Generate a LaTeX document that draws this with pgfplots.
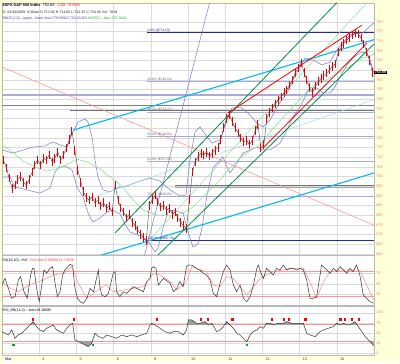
\documentclass[border=0pt]{standalone}
\usepackage{pgfplots}
\usepackage{pgfplotstable}
\pgfplotsset{compat=1.18}
\usepackage{fontspec}
\setmainfont{Liberation Sans}
\definecolor{bgy}{RGB}{255,255,218}
\definecolor{axlab}{RGB}{235,135,100}
\definecolor{bbcol}{RGB}{120,120,200}
\definecolor{macol}{RGB}{140,230,140}
\definecolor{salm}{RGB}{255,140,140}
\definecolor{cyanl}{RGB}{0,185,245}
\definecolor{lcyan}{RGB}{160,220,250}
\definecolor{dgreen}{RGB}{0,140,70}
\definecolor{lgreen}{RGB}{150,225,150}
\definecolor{navyf}{RGB}{40,40,150}
\definecolor{fibcol}{RGB}{170,170,215}
\definecolor{pinkd}{RGB}{255,150,150}
\definecolor{gridc}{RGB}{218,218,218}
\definecolor{bbtxt}{RGB}{70,70,170}
\definecolor{matxt}{RGB}{40,170,40}
\definecolor{barred}{RGB}{235,0,0}

\pgfplotstableread{
d p
0.04 708.6
0.12 704.5
0.19 699.3
0.27 694.1
0.35 695.7
0.42 698.3
0.50 700.3
0.58 697.2
0.65 695.7
0.73 698.3
0.81 702.4
0.88 706.0
0.96 708.6
1.04 706.0
1.12 709.6
1.19 708.6
1.27 711.2
1.35 707.6
1.42 709.6
1.50 712.7
1.58 708.6
1.65 711.2
1.73 714.8
1.81 719.0
1.88 723.6
1.96 713.7
2.04 703.4
2.12 697.2
2.19 692.1
2.27 689.0
2.35 687.9
2.42 689.5
2.50 686.4
2.58 687.9
2.65 684.8
2.73 686.4
2.81 683.8
2.88 684.8
2.96 681.7
3.04 695.7
3.12 687.9
3.19 683.8
3.27 681.7
3.35 678.6
3.42 680.2
3.50 676.5
3.58 674.5
3.65 672.4
3.73 670.3
3.81 668.3
3.88 667.2
3.96 685.3
4.04 688.0
4.12 690.5
4.19 686.9
4.27 684.3
4.35 685.3
4.42 682.7
4.50 683.7
4.58 680.6
4.65 681.7
4.73 678.6
4.81 676.5
4.88 674.5
4.96 673.4
5.04 688.0
5.12 702.4
5.19 707.6
5.27 710.2
5.35 712.2
5.42 711.2
5.50 712.7
5.58 710.7
5.65 712.2
5.73 713.7
5.81 715.3
5.88 719.0
5.96 725.2
6.04 730.3
6.12 731.9
6.19 728.3
6.27 725.2
6.35 722.6
6.42 720.0
6.50 717.9
6.58 718.9
6.65 716.4
6.73 718.9
6.81 724.1
6.88 727.2
6.96 714.8
7.04 716.4
7.12 730.3
7.19 733.4
7.27 735.5
7.35 737.6
7.42 739.6
7.50 741.2
7.58 743.3
7.65 744.8
7.73 747.4
7.81 750.0
7.88 753.6
7.96 756.2
8.04 758.8
8.12 754.1
8.19 750.0
8.27 745.9
8.35 743.3
8.42 746.9
8.50 749.0
8.58 751.0
8.65 752.1
8.73 753.6
8.81 755.2
8.88 757.2
8.96 758.3
9.04 764.5
9.12 767.1
9.19 769.1
9.27 770.7
9.35 772.2
9.42 773.3
9.50 774.3
9.58 773.8
9.65 771.7
9.73 768.6
9.81 764.5
9.88 760.3
9.96 753.89
}\price

\pgfplotstableread{
d p
0.000 713.8
0.296 712.2
0.833 715.3
1.156 715.9
1.371 717.9
1.559 716.4
1.747 715.3
1.909 723.1
2.043 728.3
2.231 729.8
2.312 728.3
2.419 720.5
2.500 708.6
2.581 699.8
2.715 693.1
2.903 692.1
3.091 694.1
3.360 695.2
3.629 697.2
3.978 699.3
4.247 697.7
4.516 693.1
4.785 690.0
4.946 690.5
5.054 708.6
5.188 723.1
5.323 725.7
5.457 722.1
5.645 717.4
5.860 719.0
6.048 729.3
6.183 735.5
6.398 736.0
6.613 732.9
6.855 727.8
7.016 725.7
7.204 729.3
7.392 736.0
7.661 743.3
7.823 750.0
8.011 756.7
8.145 761.4
8.360 760.3
8.602 757.8
8.817 759.3
9.005 765.5
9.167 769.7
9.355 773.3
9.543 774.3
9.704 774.3
9.839 776.9
10.00 779.6
}\bbup

\pgfplotstableread{
d p
0.000 699.8
0.215 699.8
0.349 694.6
0.672 693.1
1.022 691.5
1.290 694.1
1.425 702.4
1.559 705.5
1.747 705.0
1.882 703.4
2.016 694.6
2.177 689.5
2.312 681.2
2.446 676.5
2.634 678.6
2.823 681.7
2.984 682.7
3.172 680.7
3.306 675.5
3.441 671.4
3.710 669.3
3.978 665.2
4.113 661.0
4.194 663.1
4.328 673.4
4.462 681.7
4.597 682.7
4.866 681.2
5.000 671.4
5.134 663.6
5.269 665.2
5.376 673.4
5.511 690.5
5.672 704.5
5.941 710.2
6.048 705.0
6.129 701.9
6.317 707.1
6.478 712.2
6.855 715.3
7.016 713.8
7.204 713.8
7.473 717.4
7.661 724.1
7.823 730.9
8.011 736.0
8.199 743.3
8.280 745.9
8.468 745.9
8.629 743.3
8.817 743.3
8.952 746.4
9.086 751.5
9.274 757.8
9.435 761.4
9.624 764.0
9.785 764.5
9.892 760.3
10.00 753.9
}\bblo

\pgfplotstableread{
d p
0.000 716.4
0.215 713.8
0.565 708.1
0.941 704.5
1.210 702.9
1.559 704.5
1.828 707.1
2.016 709.1
2.285 707.6
2.634 704.0
2.984 698.8
3.253 694.6
3.522 687.9
3.790 682.7
4.167 680.2
4.516 679.6
4.866 681.2
5.134 684.3
5.511 691.5
5.860 698.3
6.129 704.5
6.398 709.6
6.667 713.3
6.935 716.4
7.204 723.1
7.742 734.5
8.280 745.9
8.817 751.0
9.355 757.2
9.704 761.4
10.00 763.3
}\mafifty

\pgfplotstableread{
d v
0.00 47.4
0.08 63.0
0.17 39.6
0.26 16.3
0.35 20.2
0.44 59.1
0.50 66.9
0.59 31.8
0.68 16.3
0.77 70.8
0.82 86.4
0.86 86.4
0.93 39.6
1.00 8.5
1.07 47.4
1.13 82.5
1.20 74.7
1.29 86.4
1.36 90.2
1.42 55.2
1.49 20.2
1.56 31.8
1.63 70.8
1.69 82.5
1.77 90.2
1.83 95.7
1.90 92.6
1.96 39.6
2.03 16.3
2.10 8.5
2.19 4.6
2.28 16.3
2.37 39.6
2.46 31.8
2.54 63.0
2.59 82.5
2.63 43.5
2.68 24.0
2.77 20.2
2.86 27.9
2.99 74.7
3.04 78.6
3.08 31.8
3.17 20.2
3.26 31.8
3.35 27.9
3.53 43.5
3.62 39.6
3.71 35.7
3.80 31.8
3.89 55.2
3.98 63.0
4.02 86.4
4.07 90.2
4.14 86.4
4.20 47.4
4.34 63.0
4.52 51.3
4.61 31.8
4.70 39.6
4.78 55.2
4.87 43.5
4.96 90.2
5.01 94.1
5.10 94.1
5.23 86.4
5.32 82.5
5.41 74.7
5.50 70.8
5.59 59.1
5.68 27.9
5.77 20.2
5.86 51.3
5.95 78.6
6.04 94.1
6.13 82.5
6.22 47.4
6.31 31.8
6.40 47.4
6.49 16.3
6.58 8.5
6.67 20.2
6.76 47.4
6.85 86.4
6.89 94.1
6.98 70.8
7.03 63.0
7.11 86.4
7.20 78.6
7.29 70.8
7.38 86.4
7.47 82.5
7.56 94.1
7.65 82.5
7.74 86.4
7.83 86.4
7.92 82.5
8.01 86.4
8.10 82.5
8.19 59.1
8.28 16.3
8.37 16.3
8.46 20.2
8.55 70.8
8.59 94.1
8.64 90.2
8.73 82.5
8.82 74.7
8.91 86.4
9.00 78.6
9.09 90.2
9.18 82.5
9.27 74.7
9.35 86.4
9.44 78.6
9.53 94.1
9.62 70.8
9.71 24.0
9.80 16.3
9.89 8.5
9.99 5.1
}\stk

\pgfplotstableread{
d v
0.00 55.2
0.22 39.6
0.44 31.8
0.66 43.5
0.84 51.3
1.11 59.1
1.38 70.8
1.65 74.7
1.87 90.2
2.05 51.3
2.28 16.3
2.46 27.9
2.63 39.6
2.81 47.4
2.99 31.8
3.26 35.7
3.53 39.6
3.80 43.5
4.07 74.7
4.25 70.8
4.52 55.2
4.70 35.7
4.96 55.2
5.10 90.2
5.32 82.5
5.50 78.6
5.68 47.4
5.86 43.5
6.04 66.9
6.22 63.0
6.40 43.5
6.58 24.0
6.76 43.5
6.94 63.0
7.11 70.8
7.29 78.6
7.56 82.5
7.83 86.4
8.10 86.4
8.28 55.2
8.46 16.3
8.64 55.2
8.82 78.6
9.09 82.5
9.35 82.5
9.62 82.5
9.80 47.4
9.99 12.7
}\std

\pgfplotstableread{
d v
0.00 53.0
0.08 48.9
0.17 44.7
0.26 57.1
0.35 36.5
0.44 44.7
0.53 48.9
0.62 57.1
0.71 65.4
0.80 73.7
0.84 77.8
0.93 65.4
1.02 57.1
1.11 53.0
1.20 61.3
1.29 65.4
1.38 69.5
1.47 57.1
1.56 53.0
1.65 48.9
1.74 61.3
1.83 69.5
1.90 73.7
1.96 32.3
2.05 28.2
2.19 22.0
2.32 16.0
2.41 24.0
2.50 48.9
2.59 40.6
2.72 36.5
2.81 44.7
2.95 40.6
3.08 36.5
3.22 44.7
3.35 40.6
3.49 44.7
3.62 40.6
3.75 44.7
3.89 48.9
3.98 69.5
4.02 73.7
4.11 69.5
4.25 61.3
4.38 53.0
4.52 48.9
4.61 53.0
4.74 53.0
4.87 44.7
4.96 57.1
5.01 81.9
5.10 81.9
5.23 73.7
5.32 73.7
5.46 77.8
5.55 69.5
5.64 73.7
5.77 53.0
5.86 57.1
5.95 65.4
6.04 77.8
6.13 69.5
6.22 61.3
6.31 48.9
6.40 44.7
6.49 36.5
6.58 28.0
6.67 44.7
6.76 53.0
6.85 57.1
6.94 65.4
7.03 61.3
7.11 73.7
7.20 73.7
7.29 69.5
7.43 73.7
7.56 73.7
7.65 77.8
7.79 73.7
7.92 73.7
8.10 73.7
8.19 48.9
8.28 44.7
8.42 40.6
8.55 53.0
8.64 57.1
8.77 61.3
8.91 65.4
9.00 73.7
9.09 69.5
9.18 73.7
9.27 69.5
9.35 69.5
9.49 77.8
9.58 65.4
9.67 53.0
9.76 40.6
9.85 32.3
9.94 24.0
9.99 18.2
}\rsi

\pgfplotsset{
  panel/.style={
    scale only axis, width=372bp, xmin=0, xmax=10,
    axis background/.style={fill=white},
    axis line style={draw=gray!55, line width=0.4bp},
    grid=major, major grid style={draw=gridc, line width=0.35bp},
    major tick length=0pt,
    yticklabel pos=right,
    ticklabel style={font=\fontsize{3.8}{4}\selectfont, text=axlab},
    yticklabel style={xshift=-1.2bp},
    /pgf/number format/assume math mode=true,
    clip mode=individual,
    xtick={1,...,9}, xticklabels={},
  },
}

\newcommand{\tinyf}{\fontsize{3.6}{4}\selectfont}
\newcommand{\fibf}{\fontsize{3.3}{3.6}\selectfont}

\begin{document}
\begin{tikzpicture}[x=1bp,y=1bp]
\fill[bgy] (0,0) rectangle (400,362);

% ---------------- main price panel ----------------
\begin{axis}[panel, at={(2bp,107bp)}, anchor=south west, height=252bp,
  ymin=659.47, ymax=789.83, ytick={660,665,...,780}]
  % full-width support lines
  \addplot[fibcol, line width=1.3bp] coordinates {(0,742.24)(10,742.24)};
  \addplot[gray, line width=0.6bp] coordinates {(0,737.06)(10,737.06)};
  \addplot[gray!90!black, line width=0.6bp] coordinates {(1.83,734.48)(10,734.48)};
  \addplot[gray!90!black, line width=0.6bp] coordinates {(4.65,695.68)(10,695.68)};
  \addplot[gray!70, line width=0.5bp] coordinates {(4.65,694.6)(10,694.6)};
  % Fibonacci retracement levels
  \addplot[navyf, line width=0.8bp] coordinates {(3.9,774.53)(10,774.53)};
  \addplot[fibcol, line width=0.8bp] coordinates {(3.9,749.10)(10,749.10)};
  \addplot[fibcol, line width=0.8bp] coordinates {(3.9,733.37)(10,733.37)};
  \addplot[fibcol, line width=0.8bp] coordinates {(3.9,720.66)(10,720.66)};
  \addplot[fibcol, line width=0.8bp] coordinates {(3.9,707.95)(10,707.95)};
  \addplot[fibcol, line width=0.8bp] coordinates {(3.9,689.85)(10,689.85)};
  \addplot[navyf, line width=0.8bp] coordinates {(3.9,666.79)(10,666.79)};
  % Bollinger bands and MA(50)
  \addplot[bbcol, line width=0.5bp] table[x=d,y=p] {\bbup};
  \addplot[bbcol, line width=0.5bp] table[x=d,y=p] {\bblo};
  \addplot[macol, line width=0.6bp] table[x=d,y=p] {\mafifty};
  % trend lines
  \addplot[salm, line width=0.5bp] coordinates {(0,756.7)(10,674.9)};
  \addplot[cyanl, line width=1.1bp] coordinates {(1.909,724.1)(10,770.86)};
  \addplot[cyanl, line width=1.1bp] coordinates {(2.5,658.4)(10,701.9)};
  \addplot[lcyan, line width=0.5bp] coordinates {(2.554,690.0)(10,739.8)};
  \addplot[dgreen, line width=0.8bp] coordinates {(3.038,670.8)(9.0,790.0)};
  \addplot[dgreen, line width=0.8bp] coordinates {(4.14,658.4)(10,768.6)};
  \addplot[lgreen, line width=0.5bp] coordinates {(3.79,663.6)(9.8,789.8)};
  \addplot[red, line width=0.8bp] coordinates {(6.075,732.9)(9.677,778.4)};
  \addplot[red, line width=0.8bp] coordinates {(7.016,714.8)(9.812,769.1)};
  \addplot[bbcol, line width=0.5bp] coordinates {(3.817,658.4)(5.58,789.9)};
  % price: close line and high-low bars
  \addplot[black!85, line width=0.3bp, mark=none] table[x=d,y=p] {\price};
  \addplot[draw=none, mark=none, forget plot,
    error bars/.cd, y dir=both, y fixed=2.3,
    error mark=none, error bar style={draw=barred, line width=0.95bp}]
    table[x=d,y=p] {\price};
  % fib labels
  \node[anchor=south west, inner sep=0.3bp, font=\fibf, text=navyf] at (axis cs:3.9,774.53) {0.0\% (\$774.53)};
  \node[anchor=south west, inner sep=0.3bp, font=\fibf, text=gray!80!black] at (axis cs:3.9,749.10) {23.6\% (\$749.10)};
  \node[anchor=south west, inner sep=0.3bp, font=\fibf, text=gray!80!black] at (axis cs:3.9,733.37) {38.2\% (\$733.37)};
  \node[anchor=south west, inner sep=0.3bp, font=\fibf, text=gray!80!black] at (axis cs:3.9,720.66) {50.0\% (\$720.66)};
  \node[anchor=south west, inner sep=0.3bp, font=\fibf, text=gray!80!black] at (axis cs:3.9,707.95) {61.8\% (\$707.95)};
  \node[anchor=south west, inner sep=0.3bp, font=\fibf, text=gray!80!black] at (axis cs:3.9,689.85) {78.6\% (\$689.85)};
  \node[anchor=south west, inner sep=0.3bp, font=\fibf, text=navyf] at (axis cs:3.9,666.79) {100.0\% (\$666.79)};
  % last price tag
  \node[anchor=west, fill=black, text=white, inner sep=0.7bp, font=\tinyf\bfseries] at (axis cs:10,753.89) {753.89};
\end{axis}

% ---------------- slow stochastic panel ----------------
\begin{axis}[panel, at={(2bp,56.7bp)}, anchor=south west, height=50.3bp,
  ymin=0, ymax=117.5, ytick={25,50,75}]
  \addplot[pinkd, line width=0.7bp] coordinates {(0,80)(10,80)};
  \addplot[pinkd, line width=0.7bp] coordinates {(0,20)(10,20)};
  \addplot[pinkd, line width=0.6bp] table[x=d,y=v] {\std};
  \addplot[black!80, line width=0.5bp] table[x=d,y=v] {\stk};
\end{axis}

% ---------------- RSI panel ----------------
\begin{axis}[panel, at={(2bp,7bp)}, anchor=south west, height=49bp,
  ymin=-5, ymax=116.6, ytick={0,25,50,75,100},
  xtick={0,...,9},
  xticklabels={\textcolor{blue!70!black}{Mar},4,5,6,9,10,11,12,13,16},
  xticklabel style={text=black!75, anchor=north west, xshift=-0.3bp, yshift=0.6bp}]
  \addplot[pinkd, line width=0.7bp] coordinates {(0,70)(10,70)};
  \addplot[pinkd, line width=0.7bp] coordinates {(0,30)(10,30)};
  % overbought / oversold shading
  \addplot[fill=gray!75, draw=none] coordinates {(0.78,70)(0.80,73.7)(0.84,77.8)(0.89,70)};
  \addplot[fill=gray!75, draw=none] coordinates {(3.99,70)(4.02,73.7)(4.10,70)};
  \addplot[fill=gray!75, draw=none] coordinates {(4.98,70)(5.01,81.9)(5.10,81.9)(5.23,73.7)(5.32,73.7)(5.46,77.8)(5.54,70)};
  \addplot[fill=gray!75, draw=none] coordinates {(5.56,70)(5.64,73.7)(5.66,70)};
  \addplot[fill=gray!75, draw=none] coordinates {(5.98,70)(6.04,77.8)(6.125,70)};
  \addplot[fill=gray!75, draw=none] coordinates {(7.086,70)(7.11,73.7)(7.20,73.7)(7.279,70)};
  \addplot[fill=gray!75, draw=none] coordinates {(7.307,70)(7.43,73.7)(7.56,73.7)(7.65,77.8)(7.79,73.7)(7.92,73.7)(8.10,73.7)(8.113,70)};
  \addplot[fill=gray!75, draw=none] coordinates {(8.96,70)(9.00,73.7)(9.079,70)};
  \addplot[fill=gray!75, draw=none] coordinates {(9.10,70)(9.18,73.7)(9.259,70)};
  \addplot[fill=gray!75, draw=none] coordinates {(9.358,70)(9.49,77.8)(9.547,70)};
  \addplot[fill=gray!75, draw=none] coordinates {(2.01,30)(2.05,28.2)(2.19,22.0)(2.32,16.0)(2.41,24.0)(2.432,30)};
  \addplot[fill=gray!75, draw=none] coordinates {(9.875,30)(9.94,24.0)(9.99,18.2)(9.99,30)};
  \addplot[black!80, line width=0.5bp] table[x=d,y=v] {\rsi};
  \addplot[only marks, mark=square*, mark size=0.6bp, red] coordinates {
    (0.82,84)(1.92,84)(4.16,84)(5.35,84)(5.52,84)(6.19,84)(7.25,84)(7.58,84)(7.70,84)(8.15,84)(9.09,84)(9.22,84)(9.40,84)(9.58,84)};
  \addplot[only marks, mark=square*, mark size=0.6bp, green!70!black] coordinates {
    (0.30,20)(2.44,20)(6.58,20)};
\end{axis}

% ---------------- header texts ----------------
\node[anchor=west, inner sep=0pt, font=\fontsize{3.9}{4}\selectfont] at (2.5,356.3)
  {\textbf{\$SPX S\&P 500 Index}\ \ 753.89\ \ \textcolor{red}{-2.66\ \ -0.35\%}};
\node[anchor=west, inner sep=0pt, font=\tinyf, text=black!85] at (2.5,350)
  {D: 03/10/2009\ \ 9:30am O:712.82 H:714.05 L:712.32 C:714.05 Vol: 78 M};
\node[anchor=west, inner sep=0pt, font=\tinyf] at (2.5,343.6)
  {\textcolor{bbtxt}{BB(20,2.0) --upper --lower last=779.59947;753.91353}\ \textcolor{matxt}{MA(50) -- last=763.3062}};
\node[anchor=west, inner sep=0pt, font=\tinyf] at (2.5,101.6)
  {SS(18,10) --\%K \textcolor{red!80}{--\%D last=5.06890;12.74538}};
\node[anchor=west, inner sep=0pt, font=\tinyf] at (2.5,51.2)
  {RSI\_BB(14,2) -- last=18.18085};
\end{tikzpicture}
\end{document}
